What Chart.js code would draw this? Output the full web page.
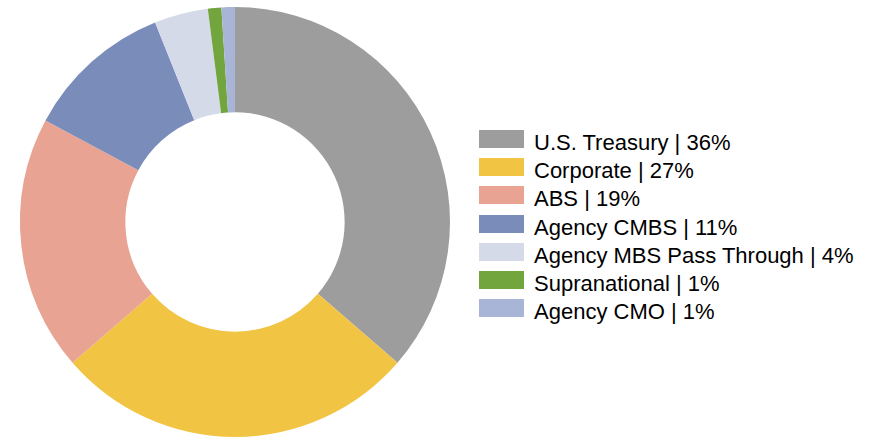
<!DOCTYPE html>
<html>
<head>
<meta charset="utf-8">
<script src="https://cdn.jsdelivr.net/npm/chart.js@4"></script>
<style>
  html, body { margin: 0; padding: 0; background: #fff; }
  #wrap { position: relative; width: 877px; height: 437px; overflow: hidden; }
  #chartBox { position: absolute; left: 0; top: 0; width: 470px; height: 437px; }
  #legend { position: absolute; left: 479px; top: 130px; margin: 0; padding: 0; list-style: none;
            font-family: "Liberation Sans", Arial, sans-serif; font-size: 22px; color: #000; }
  #legend li { position: absolute; left: 0; height: 18px; white-space: nowrap; }
  #legend .sw { position: absolute; left: 0; top: 0; width: 45px; height: 18px; }
  #legend .tx { position: absolute; left: 55px; top: 2px; line-height: 22px; }
</style>
</head>
<body>
<div id="wrap">
  <div id="chartBox"><canvas id="c"></canvas></div>
  <ul id="legend"></ul>
</div>
<script>
// Sector allocation (percent of portfolio)
const categories = ["U.S. Treasury", "Corporate", "ABS", "Agency CMBS",
                    "Agency MBS Pass Through", "Supranational", "Agency CMO"];
const shares = [36, 27, 19, 11, 4, 1, 1];
const colors = ["#9D9D9D", "#F2C443", "#E8A393", "#7A8DBA", "#D5DAE9", "#73A53E", "#A8B5D6"];

new Chart(document.getElementById("c"), {
  type: "doughnut",
  data: {
    labels: categories,
    datasets: [{
      data: shares,
      backgroundColor: colors,
      borderWidth: 0
    }]
  },
  options: {
    responsive: true,
    maintainAspectRatio: false,
    animation: false,
    cutout: "51%",
    layout: { padding: { left: 20, right: 20, top: 7, bottom: 0 } },
    plugins: {
      legend: { display: false },
      tooltip: { enabled: false }
    }
  }
});

// Legend list beside the ring
const legend = document.getElementById("legend");
categories.forEach((name, i) => {
  const li = document.createElement("li");
  li.style.top = (i * 28.17) + "px";
  const sw = document.createElement("span");
  sw.className = "sw";
  sw.style.background = colors[i];
  const tx = document.createElement("span");
  tx.className = "tx";
  tx.textContent = name + " | " + shares[i] + "%";
  li.appendChild(sw);
  li.appendChild(tx);
  legend.appendChild(li);
});
</script>
</body>
</html>
